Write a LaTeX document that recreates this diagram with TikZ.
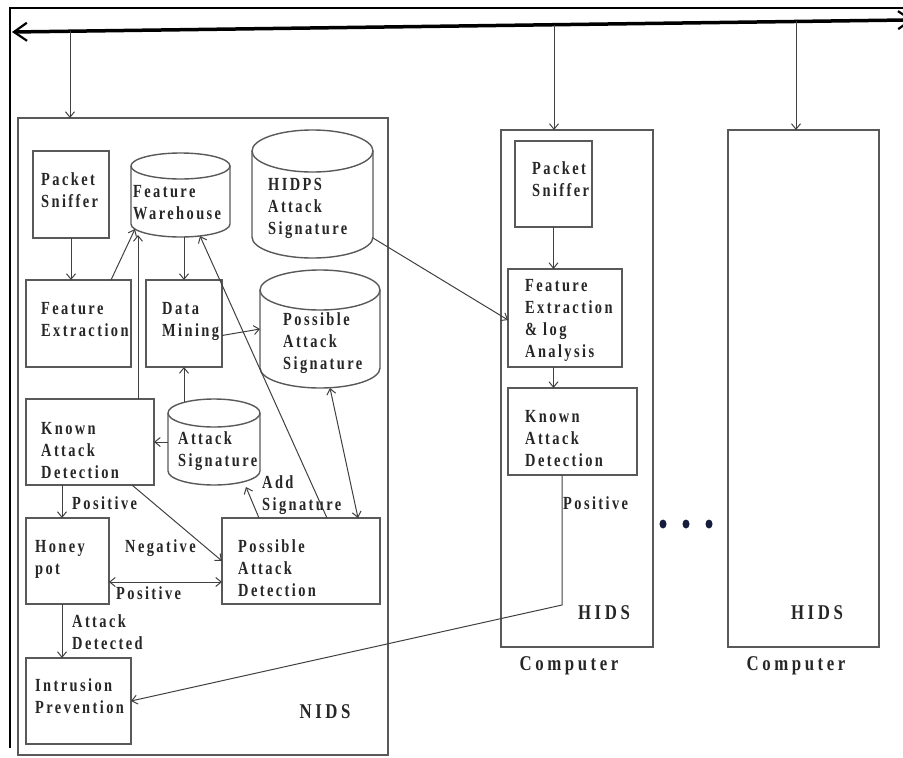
\documentclass[tikz,border=0pt]{standalone}
\usepackage{fontspec}
\setmainfont{Liberation Serif}
\newfontfamily\lblfont{Liberation Serif}[FakeStretch=0.78,LetterSpace=13]
\newfontfamily\bigfont{Liberation Serif}[FakeStretch=0.8,LetterSpace=17]
\usetikzlibrary{arrows.meta,calc}
\newcommand\drawcyl[3]{%
  \draw[cylline] ($(#1.north west)+(0,#2)$) -- ($(#1.south west)+(0,-#2)$)
     arc[start angle=180,end angle=360,x radius=#3 pt,y radius=#2 pt]
     -- ($(#1.north east)+(0,#2)$);
  \draw[cylline] ($(#1.north)+(0,#2)$) ellipse[x radius=#3 pt,y radius=#2 pt];}
\begin{document}
\begin{tikzpicture}[x=1pt,y=-1pt,
  >={Straight Barb[length=5.5pt,width=9pt]},
  box/.style={draw=black!65,line width=1.4pt,inner sep=0,outer sep=0},
  cylbox/.style={inner sep=0,outer sep=0},
  cylline/.style={draw=black!65,line width=1.4pt},
  conn/.style={draw=black!75,line width=1pt,->},
  bconn/.style={draw=black!75,line width=1pt,<->},
  txt/.style={font=\lblfont\bfseries\fontsize{18.5}{22}\selectfont,text=black!85,inner sep=0,align=left,anchor=north west},
  bigtxt/.style={font=\bigfont\bfseries\fontsize{21}{25}\selectfont,text=black!85,inner sep=0,anchor=base}]
\useasboundingbox (0,0) rectangle (903,758);
% frame
\draw[line width=2pt] (903,8) -- (10,8) -- (10,748);
% bus
\coordinate (busL) at (12,32);
\coordinate (busR) at (913,19.9);
\draw[line width=3.5pt,{Straight Barb[length=13pt,width=18pt,line width=2.2pt]}-{Straight Barb[length=13pt,width=18pt,line width=2.2pt]}] (busL) -- (busR);
\coordinate (b1) at (70,31.2);
\coordinate (b2) at (554,24.7);
\coordinate (b3) at (796,21.4);
% outer boxes
\node[box,minimum width=370pt,minimum height=637pt] (nids) at (203,436.5) {};
\node[box,minimum width=152pt,minimum height=517pt] (hids1) at (577,388.5) {};
\node[box,minimum width=151pt,minimum height=517pt] (hids2) at (803.5,388.5) {};
% NIDS boxes
\node[box,minimum width=76pt,minimum height=87pt] (nps) at (71,194.5) {};
\node[box,minimum width=105pt,minimum height=87pt] (fe) at (78.5,323.5) {};
\node[box,minimum width=76pt,minimum height=87pt] (dm) at (184,323.5) {};
\node[box,minimum width=128pt,minimum height=86pt] (kad) at (90,442) {};
\node[box,minimum width=83pt,minimum height=86pt] (hp) at (67.5,561) {};
\node[box,minimum width=158pt,minimum height=86pt] (pad) at (301,561) {};
\node[box,minimum width=105pt,minimum height=86pt] (ip) at (78.5,701) {};
% cylinders
\node[cylbox,minimum width=99pt,minimum height=84pt] (fw) at (180.5,195) {};
\node[cylbox,minimum width=121pt,minimum height=128pt] (hidps) at (312.5,194) {};
\node[cylbox,minimum width=120pt,minimum height=118pt] (pas) at (320,329) {};
\node[cylbox,minimum width=92pt,minimum height=86pt] (as) at (214,442) {};
\drawcyl{fw}{13}{49.5}
\drawcyl{hidps}{21}{60.5}
\drawcyl{pas}{20}{60}
\drawcyl{as}{14}{46}
% HIDS boxes
\node[box,minimum width=77pt,minimum height=86pt] (hps) at (553.5,184) {};
\node[box,minimum width=114pt,minimum height=98pt] (hfe) at (565,318) {};
\node[box,minimum width=129pt,minimum height=87pt] (hkad) at (572.5,431.5) {};
% texts
\node[txt] (npst) at (41,170) {\strut Packet\\Sniffer};
\node[txt] (fwt) at (133,182) {\strut Feature\\Warehouse};
\node[txt] (hidpst) at (268,175) {\strut HIDPS\\Attack\\Signature};
\node[txt] (fet) at (41,299) {\strut Feature\\Extraction};
\node[txt] (dmt) at (162,299) {\strut Data\\Mining};
\node[txt] (past) at (283,310) {\strut Possible\\Attack\\Signature};
\node[txt] (kadt) at (41,419) {\strut Known\\Attack\\Detection};
\node[txt] (ast) at (178,429) {\strut Attack\\Signature};
\node[txt] (hpt) at (35,537) {\strut Honey\\pot};
\node[txt] (padt) at (238,537) {\strut Possible\\Attack\\Detection};
\node[txt] (ipt) at (35,676) {\strut Intrusion\\Prevention};
\node[txt] (lpos1) at (72,494) {\strut Positive};
\node[txt] (lneg) at (125,537) {\strut Negative};
\node[txt] (lpos2) at (116,584) {\strut Positive};
\node[txt] (latt) at (72,612) {\strut Attack\\Detected};
\node[txt] (ladd) at (262,473) {\strut Add\\Signature};
\node[txt] (hpst) at (532,159) {\strut Packet\\Sniffer};
\node[txt] (hfet) at (525,276) {\strut Feature\\Extraction\\\& log\\Analysis};
\node[txt] (hkadt) at (525,407) {\strut Known\\Attack\\Detection};
\node[txt] (lpos3) at (563,494) {\strut Positive};
\node[bigtxt] (nidsl) at (325,718) {NIDS};
\node[bigtxt] (hids1l) at (604,619) {HIDS};
\node[bigtxt] (hids2l) at (817,619) {HIDS};
\node[bigtxt] (comp1) at (569,670) {Computer};
\node[bigtxt] (comp2) at (796,670) {Computer};
% dots
\fill[fill={rgb,255:red,20;green,30;blue,60}] (663,524) ellipse[x radius=3.5pt,y radius=4.5pt];
\fill[fill={rgb,255:red,20;green,30;blue,60}] (686,524) ellipse[x radius=3.5pt,y radius=4.5pt];
\fill[fill={rgb,255:red,20;green,30;blue,60}] (709,524) ellipse[x radius=3.5pt,y radius=4.5pt];
% connectors
\draw[conn] (b1) -- (b1 |- nids.north);
\draw[conn] (b2) -- (b2 |- hids1.north);
\draw[conn] (b3) -- (b3 |- hids2.north);
\draw[conn] (nps.south) -- (nps.south |- fe.north);
\draw[conn] ($(fe.north west)+(85,0)$) -- ($(fw.south west)+(4,-8)$);
\draw[conn] ($(kad.north west)+(112,0)$) -- ($(fw.south west)+(7,-2)$);
\draw[conn] (dm.north |- fw.south) -- (dm.north);
\draw[conn] ($(dm.east)+(0,12)$) -- (pas.west);
\draw[conn] ($(dm.south |- as.north)+(0,3)$) -- (dm.south);
\draw[conn] (as.west) -- (kad.east);
\draw[conn] ($(pad.north west)+(105,0)$) -- ($(fw.south)+(19.5,-1)$);
\draw[bconn] ($(pas.south)+(10,0)$) -- ($(pad.north west)+(136,0)$);
\draw[conn] ($(pad.north west)+(37,0)$) -- ($(as.south east)+(-14,2)$);
\draw[conn] ($(kad.south west)+(36,0)$) -- ($(hp.north west)+(36,0)$);
\draw[conn] ($(kad.south west)+(106,0)$) -- (pad.west);
\draw[bconn] ($(hp.east)+(0,21)$) -- ($(pad.west)+(0,21)$);
\draw[conn] ($(hp.south west)+(36,0)$) -- ($(ip.north west)+(36,0)$);
\draw[conn] ($(hkad.south west)+(54,0)$) -- ++(0,130) -- (ip.east);
\draw[conn] ($(hidps.south east)+(0,-20)$) -- ($(hfe.west)+(0,2)$);
\draw[conn] (hps.south) -- (hps.south |- hfe.north);
\draw[conn] (hps.south |- hfe.south) -- (hps.south |- hkad.north);
\end{tikzpicture}
\end{document}
